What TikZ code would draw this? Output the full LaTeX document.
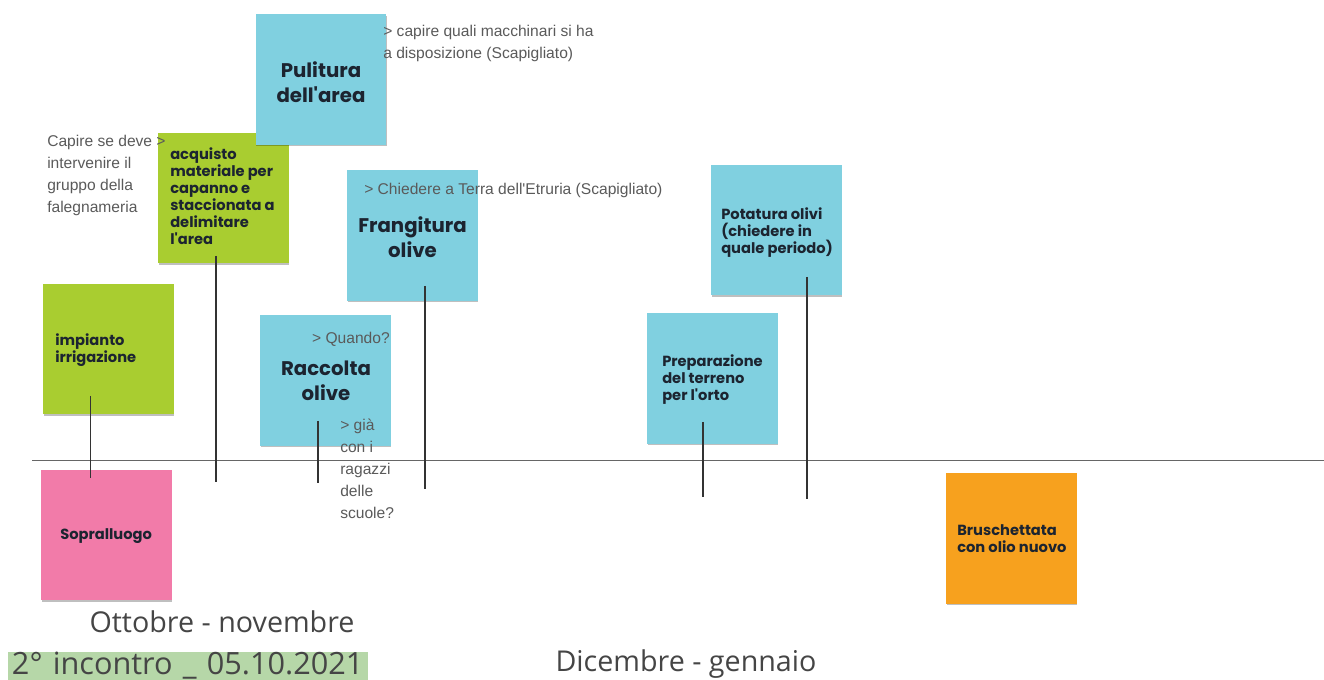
\documentclass[tikz,border=0pt]{standalone}
\usepackage{fontspec}
\setmainfont{Open Sans}[Ligatures=TeXOff]
\newfontfamily\notefont{Liberation Sans}[Ligatures=TeXOff]
\newfontfamily\stickyfont{Poppins}[Ligatures=TeXOff]
\usetikzlibrary{shadows}
\definecolor{skyb}{HTML}{80D0E0}
\definecolor{limeg}{HTML}{A9CD30}
\definecolor{pinkk}{HTML}{F27BA9}
\definecolor{orng}{HTML}{F7A11E}
\definecolor{navyt}{HTML}{1C2430}
\definecolor{notegray}{HTML}{5A5A5A}
\definecolor{biggray}{HTML}{454545}
\definecolor{bggreen}{HTML}{B6D7A8}
\tikzset{
  sticky/.style={draw=none, minimum width=98pt, minimum height=98pt, inner sep=0,
    drop shadow={shadow xshift=0.4pt, shadow yshift=-1.2pt, opacity=0.25, fill=black}},
  bigtxt/.style={font=\stickyfont\bfseries\fontsize{14.8}{19}\selectfont, text=navyt, align=center, inner sep=0},
  smalltxt/.style={font=\stickyfont\bfseries\fontsize{11}{12.75}\selectfont, text=navyt, align=left, inner sep=0, anchor=north west},
  notetxt/.style={font=\notefont\fontsize{11.7}{16.5}\selectfont, text=notegray, align=left, inner sep=0, anchor=north west},
  period/.style={font=\fontsize{21.5}{24}\selectfont, text=biggray, inner sep=0},
  tick/.style={draw=black!80, line width=1.1pt},
}
\begin{document}
\begin{tikzpicture}[x=0.75pt, y=-0.75pt]
\useasboundingbox (0,0) rectangle (1324,680);
% axis
\coordinate (axL) at (32,460.5);
\coordinate (axR) at (1324,460.5);
\draw[black!60, line width=0.9pt] (axL) -- (axR);
% sticky notes
\node[sticky, fill=limeg] (acq) at (223.5,198) {};
\node[sticky, fill=skyb] (pul) at (321,79.5) {};
\node[sticky, fill=skyb] (fra) at (412.5,235.5) {};
\node[sticky, fill=limeg] (imp) at (108.5,349) {};
\node[sticky, fill=skyb] (rac) at (325.5,380.5) {};
\node[sticky, fill=skyb] (pre) at (712.5,378.5) {};
\node[sticky, fill=skyb] (pot) at (776.5,230) {};
\node[sticky, fill=pinkk] (sop) at (106.5,535) {};
\node[sticky, fill=orng] (bru) at (1011.5,538.5) {};
% texts in notes
\node[bigtxt] (pult) at (321,82) {Pulitura\\dell'area};
\node[bigtxt] (frat) at (412.5,237) {Frangitura\\olive};
\node[bigtxt] (ract) at (326,381) {Raccolta\\olive};
\node[smalltxt] (acqt) at (170,147) {acquisto\\materiale per\\capanno e\\staccionata a\\delimitare\\l'area};
\node[smalltxt] (impt) at (55,333) {impianto\\irrigazione};
\node[smalltxt] (pret) at (662,354) {Preparazione\\del terreno\\per l'orto};
\node[smalltxt] (pott) at (721,207) {Potatura olivi\\(chiedere in\\quale periodo)};
\node[smalltxt] (sopt) at (60,528) {Sopralluogo};
\node[smalltxt] (brut) at (957,524) {Bruschettata\\con olio nuovo};
% notes
\node[notetxt] (n1) at (383,25) {> capire quali macchinari si ha\\a disposizione (Scapigliato)};
\node[notetxt] (n2) at (47,135) {Capire se deve >\\intervenire il\\gruppo della\\falegnameria};
\node[notetxt] (n3) at (364,183) {> Chiedere a Terra dell'Etruria (Scapigliato)};
\node[notetxt, anchor=north east] (n4) at (390,332) {> Quando?};
\node[notetxt] (n5) at (340,419) {> già\\con i\\ragazzi\\delle\\scuole?};
% ticks
\coordinate (t1a) at (90.5,396); \coordinate (t1b) at (90.5,478);
\coordinate (t2a) at (216,256); \coordinate (t2b) at (216,482);
\coordinate (t3a) at (318,421); \coordinate (t3b) at (318,483);
\coordinate (t4a) at (425,286); \coordinate (t4b) at (425,489);
\coordinate (t5a) at (703,422); \coordinate (t5b) at (703,497);
\coordinate (t6a) at (807,277); \coordinate (t6b) at (807,499);
\draw[tick] (t1a) -- (t1b);
\draw[tick] (t2a) -- (t2b);
\draw[tick] (t3a) -- (t3b);
\draw[tick] (t4a) -- (t4b);
\draw[tick] (t5a) -- (t5b);
\draw[tick] (t6a) -- (t6b);
% period labels
\node[period] (ott) at (222,622) {Ottobre - novembre};
\node[period] (dic) at (686,664) {Dicembre - gennaio};
\node[period, font=\fontsize{23}{24}\selectfont, fill=bggreen, minimum width=270pt, minimum height=21pt, text width=264pt, align=left, inner xsep=3pt] (inc) at (188,666) {2° incontro \_ 05.10.2021};
\end{tikzpicture}
\end{document}
